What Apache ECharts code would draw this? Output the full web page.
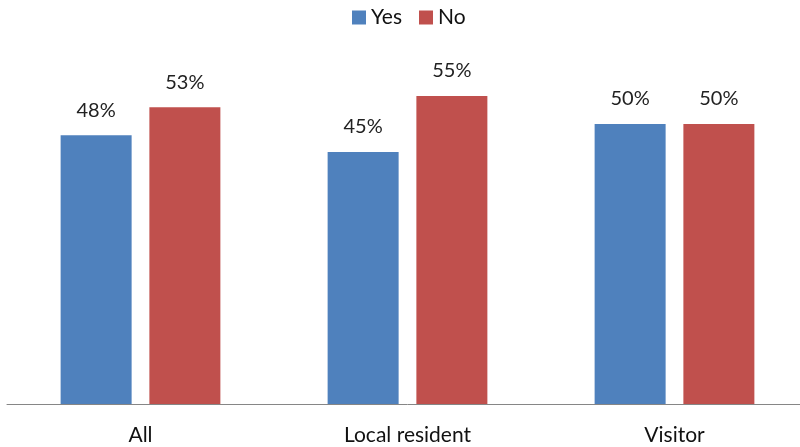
<!DOCTYPE html>
<html>
<head>
<meta charset="utf-8">
<script src="https://cdn.jsdelivr.net/npm/echarts@6/dist/echarts.min.js"></script>
<style>
  html, body { margin: 0; padding: 0; background: #fff; overflow: hidden; }
  #chart { width: 808px; height: 447px; }
</style>
</head>
<body>
<div id="chart"></div>
<script>
// Survey answers by respondent group, in percent
const categories = ['All', 'Local resident', 'Visitor'];
const seriesNames = ['Yes', 'No'];
const yesValues = [48, 45, 50];
const noValues = [53, 55, 50];

const FONT = 'Lato, "Open Sans", sans-serif';
const colors = ['#4F81BD', '#C0504D'];

const chart = echarts.init(document.getElementById('chart'), null, { renderer: 'canvas' });

const labelStyle = {
  show: true,
  position: 'top',
  distance: 15,
  formatter: '{c}%',
  color: '#222',
  fontFamily: FONT,
  fontSize: 20
};

chart.setOption({
  animation: false,
  color: colors,
  legend: {
    data: seriesNames,
    top: 2,
    left: 347,
    itemWidth: 14,
    itemHeight: 14,
    itemGap: 17,
    icon: 'rect',
    textStyle: { fontFamily: FONT, fontSize: 21, color: '#111' }
  },
  grid: { left: 7, right: 0, top: 68, bottom: 43, containLabel: false },
  xAxis: {
    type: 'category',
    data: categories,
    axisLine: { lineStyle: { color: '#868686', width: 1 } },
    axisTick: { show: false },
    axisLabel: { fontFamily: FONT, fontSize: 21, color: '#111', margin: 21 }
  },
  yAxis: {
    type: 'value',
    min: 0,
    max: 60,
    show: false,
    splitLine: { show: false }
  },
  series: [
    {
      name: seriesNames[0],
      type: 'bar',
      data: yesValues,
      barWidth: 71,
      barGap: '25%',
      label: labelStyle
    },
    {
      name: seriesNames[1],
      type: 'bar',
      data: noValues,
      barWidth: 71,
      barGap: '25%',
      label: labelStyle
    }
  ]
});
</script>
</body>
</html>
